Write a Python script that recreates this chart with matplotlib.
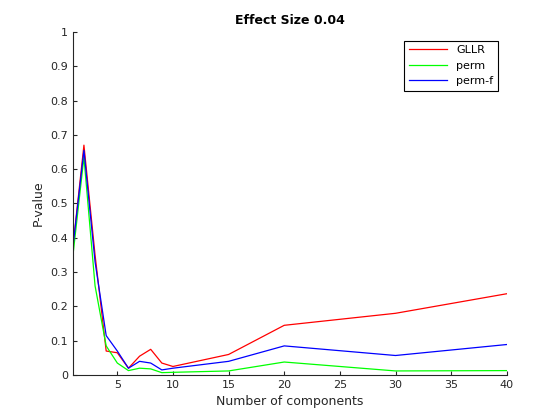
import matplotlib
matplotlib.use("Agg")
import matplotlib.pyplot as plt

x = [1, 2, 3, 4, 5, 6, 7, 8, 9, 10, 15, 20, 30, 40]
gllr = [0.37, 0.67, 0.35, 0.07, 0.065, 0.02, 0.055, 0.075, 0.035, 0.025, 0.06, 0.145, 0.18, 0.237]
perm = [0.345, 0.635, 0.26, 0.085, 0.035, 0.013, 0.02, 0.018, 0.007, 0.008, 0.012, 0.038, 0.012, 0.013]
permf = [0.37, 0.655, 0.33, 0.115, 0.07, 0.02, 0.04, 0.035, 0.015, 0.02, 0.04, 0.085, 0.057, 0.089]

fig = plt.figure(figsize=(5.6, 4.2), dpi=100)
ax = fig.add_axes([0.13, 0.107, 0.775, 0.817])
ax.plot(x, gllr, color='#ff0000', lw=0.9, label='GLLR')
ax.plot(x, perm, color='#00ff00', lw=0.9, label='perm')
ax.plot(x, permf, color='#0000ff', lw=0.9, label='perm-f')
ax.set_xlim(1, 40)
ax.set_ylim(0, 1)
ax.set_xticks([5, 10, 15, 20, 25, 30, 35, 40])
ax.set_yticks([0, 0.1, 0.2, 0.3, 0.4, 0.5, 0.6, 0.7, 0.8, 0.9, 1])
ax.set_yticklabels(['0', '0.1', '0.2', '0.3', '0.4', '0.5', '0.6', '0.7', '0.8', '0.9', '1'])
ax.tick_params(direction='in', labelsize=8, colors='#262626', length=3)
for s in ['top', 'right']:
    ax.spines[s].set_visible(False)
for s in ['left', 'bottom']:
    ax.spines[s].set_color('#262626')
ax.set_xlabel('Number of components', fontsize=9, color='#262626')
ax.set_ylabel('P-value', fontsize=9, color='#262626')
ax.set_title('Effect Size 0.04', fontsize=9, fontweight='bold')
leg = ax.legend(loc='upper right', fontsize=8, fancybox=False, edgecolor='black',
                framealpha=1, handlelength=3.5, borderaxespad=0.8)
leg.get_frame().set_linewidth(0.8)
fig.savefig('out.png')
